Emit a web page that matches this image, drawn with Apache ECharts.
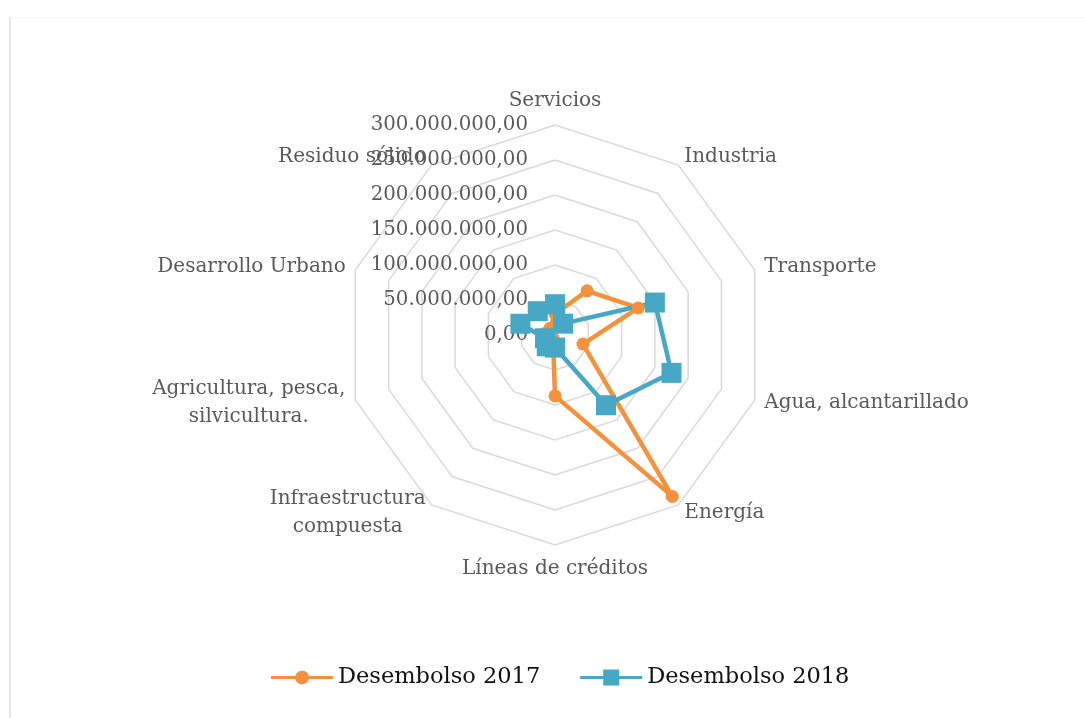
<!DOCTYPE html>
<html>
<head>
<meta charset="utf-8">
<script src="https://cdn.jsdelivr.net/npm/echarts@6/dist/echarts.min.js"></script>
<style>
  html, body { margin: 0; padding: 0; background: #fff; }
  #frame { position: absolute; left: 9px; top: 17px; width: 1090px; height: 700px; border-left: 2px solid #e4e4e4; border-top: 1px solid #f4f4f4; }
  #main { width: 1085px; height: 718px; position: absolute; left: 0; top: 0; }
</style>
</head>
<body>
<div id="frame"></div>
<div id="main"></div>
<script>
// categorías (sentido horario desde arriba)
const categories = ['Servicios', 'Industria', 'Transporte', 'Agua, alcantarillado', 'Energía',
  'Líneas de créditos', 'Infraestructura\ncompuesta', 'Agricultura, pesca,\nsilvicultura.',
  'Desarrollo Urbano', 'Residuo sólido'];
// valores
const desembolso2017 = [30e6, 78e6, 125e6, 42e6, 285e6, 87e6, 5e6, 6e6, 12e6, 12e6];
const desembolso2018 = [44e6, 20e6, 150e6, 175e6, 124e6, 18e6, 20e6, 15e6, 52e6, 42e6];
const maxValue = 300e6;

const FONT = 'DejaVu Serif';
const NAME_SIZE = 20;

// ECharts dibuja el radar en sentido antihorario: invertir orden salvo el primero
const order = [0].concat(categories.map((_, i) => i).slice(1).reverse());
const pick = arr => order.map(i => arr[i]);

function fmt(v) {
  const s = Math.round(v).toString().replace(/\B(?=(\d{3})+(?!\d))/g, '.');
  return s + ',00';
}

// ancho de texto para centrar las etiquetas de dos líneas
const ctx = document.createElement('canvas').getContext('2d');
ctx.font = NAME_SIZE + 'px "' + FONT + '"';
function nameFormatter(name) {
  const lines = name.split('\n');
  if (lines.length === 1) return name;
  const w = Math.ceil(Math.max(...lines.map(l => ctx.measureText(l).width)));
  return lines.map(l => '{c' + w + '|' + l + '}').join('\n');
}
const rich = {};
categories.forEach(name => {
  const lines = name.split('\n');
  if (lines.length > 1) {
    const w = Math.ceil(Math.max(...lines.map(l => ctx.measureText(l).width)));
    rich['c' + w] = { width: w, align: 'center', color: '#595959', fontFamily: FONT, fontSize: NAME_SIZE, lineHeight: 28 };
  }
});

const indicator = order.map((i, k) => ({
  name: categories[i],
  max: maxValue,
  min: 0,
  axisLabel: { show: k === 0 },
}));

// iconos de leyenda: línea con marcador
const iconCircle = 'path://M0,6.5 L24.2,6.5 A7,7 0 0,1 37.8,6.5 L62,6.5 L62,9.5 L37.8,9.5 A7,7 0 0,1 24.2,9.5 L0,9.5 Z';
const iconRect = 'path://M0,6.5 L23,6.5 L23,0 L39,0 L39,6.5 L62,6.5 L62,9.5 L39,9.5 L39,16 L23,16 L23,9.5 L0,9.5 Z';

const option = {
  animation: false,
  legend: {
    bottom: 24,
    left: 266,
    itemWidth: 62,
    itemHeight: 16,
    itemGap: 40,
    textStyle: { fontFamily: FONT, fontSize: 22.5, color: '#111' },
    data: [
      { name: 'Desembolso 2017', icon: iconCircle },
      { name: 'Desembolso 2018', icon: iconRect },
    ],
  },
  radar: {
    center: [555, 335],
    radius: 210,
    splitNumber: 6,
    shape: 'polygon',
    nameGap: 10,
    axisName: { color: '#595959', fontFamily: FONT, fontSize: NAME_SIZE, lineHeight: 28, formatter: nameFormatter, rich: rich },
    splitLine: { lineStyle: { color: '#d9d9d9', width: 1.5 } },
    splitArea: { show: false },
    axisLine: { show: false },
    axisTick: { show: false },
    axisLabel: {
      show: true,
      color: '#595959',
      fontFamily: FONT,
      fontSize: 19.8,
      margin: 27,
      padding: [6, 0, 0, 0],
      formatter: fmt,
    },
    indicator: indicator,
  },
  series: [{
    type: 'radar',
    data: [
      {
        name: 'Desembolso 2017',
        value: pick(desembolso2017),
        symbol: 'circle',
        symbolSize: 13,
        itemStyle: { color: '#F4913C' },
        lineStyle: { color: '#F4913C', width: 4.5 },
      },
      {
        name: 'Desembolso 2018',
        value: pick(desembolso2018),
        symbol: 'rect',
        symbolSize: 20,
        itemStyle: { color: '#46A8C4' },
        lineStyle: { color: '#46A8C4', width: 4.5 },
      },
    ],
  }],
};

const myChart = echarts.init(document.getElementById('main'));
myChart.setOption(option);
</script>
</body>
</html>
